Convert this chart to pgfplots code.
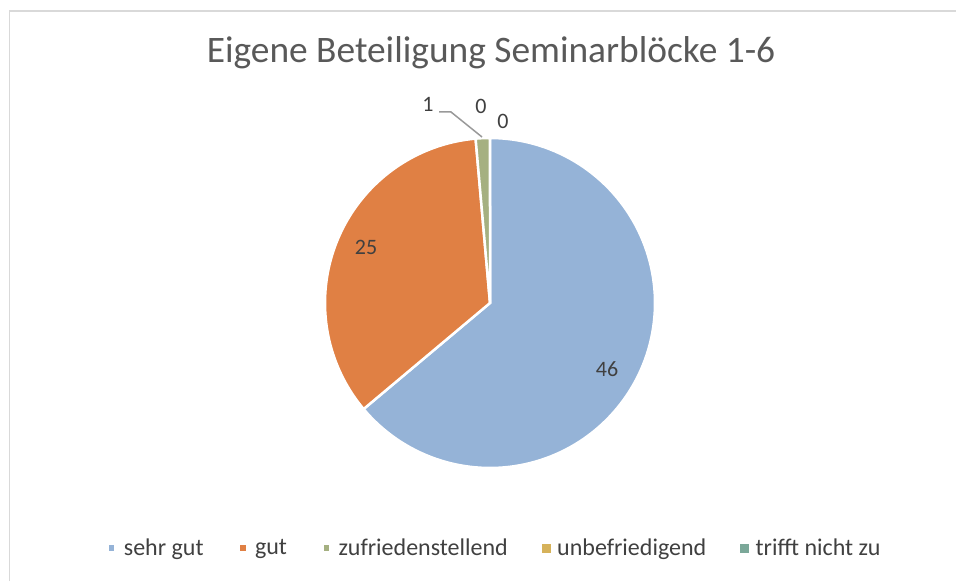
\documentclass[border=0pt]{standalone}
\usepackage{fontspec}
\setmainfont{Carlito}
\usepackage{pgfplots}
\pgfplotsset{compat=1.18}
\usepackage{pgfplotstable}
\definecolor{cA}{RGB}{149,179,215}
\definecolor{cB}{RGB}{224,128,68}
\definecolor{cC}{RGB}{165,176,129}
\definecolor{cD}{RGB}{214,178,90}
\definecolor{cE}{RGB}{123,168,153}
\definecolor{txt}{RGB}{64,64,64}
\definecolor{ttl}{RGB}{89,89,89}
\definecolor{frm}{RGB}{217,217,217}
\pgfplotstableread{
label value
sehr_gut 46
gut 25
zufriedenstellend 1
unbefriedigend 0
trifft_nicht_zu 0
}\piedata
\pgfplotstablegetelem{0}{value}\of\piedata \let\vA\pgfplotsretval
\pgfplotstablegetelem{1}{value}\of\piedata \let\vB\pgfplotsretval
\pgfplotstablegetelem{2}{value}\of\piedata \let\vC\pgfplotsretval
\pgfplotstablegetelem{3}{value}\of\piedata \let\vD\pgfplotsretval
\pgfplotstablegetelem{4}{value}\of\piedata \let\vE\pgfplotsretval
\pgfmathsetmacro\tot{\vA+\vB+\vC+\vD+\vE}
\pgfmathsetmacro\aO{90}
\pgfmathsetmacro\aA{\aO-360*(\vA/\tot)}
\pgfmathsetmacro\aB{\aA-360*(\vB/\tot)}
\pgfmathsetmacro\aC{\aB-360*(\vC/\tot)}
\def\cx{490}\def\cy{278}\def\rr{165}
\begin{document}%
\begin{tikzpicture}
\begin{axis}[
  x=1pt,y=1pt,xmin=0,xmax=957,ymin=0,ymax=581,
  axis lines=none, clip=false,
  legend columns=5,
  legend style={draw=none, fill=none, at={(axis cs:494.5,33)}, anchor=center,
    font=\fontsize{24}{26}\selectfont, text=txt,
    /tikz/every even column/.append style={column sep=32pt},
    /tikz/every odd column/.append style={column sep=5pt},
    inner sep=0pt},
  legend image code/.code={\fill[#1] (0pt,-4pt) rectangle (8pt,4pt);},
]
\path (axis cs:0,0) rectangle (axis cs:957,581);
\draw[frm, line width=1.5pt] (axis cs:9.5,0) -- (axis cs:9.5,570) -- (axis cs:956,570);
\addplot[fill=cA, draw=white, line width=2.5pt, domain=\aA:\aO, samples=120, variable=\t]
  ({\cx+\rr*cos(\t)},{\cy+\rr*sin(\t)}) -- (axis cs:\cx,\cy) -- cycle;
\addlegendentry{sehr gut}
\addplot[fill=cB, draw=white, line width=2.5pt, domain=\aB:\aA, samples=80, variable=\t]
  ({\cx+\rr*cos(\t)},{\cy+\rr*sin(\t)}) -- (axis cs:\cx,\cy) -- cycle;
\addlegendentry{gut}
\addplot[fill=cC, draw=white, line width=2.5pt, domain=\aC:\aB, samples=10, variable=\t]
  ({\cx+\rr*cos(\t)},{\cy+\rr*sin(\t)}) -- (axis cs:\cx,\cy) -- cycle;
\addlegendentry{zufriedenstellend}
\addlegendimage{cD}
\addlegendentry{unbefriedigend}
\addlegendimage{cE}
\addlegendentry{trifft nicht zu}
\node[text=ttl, font=\fontsize{37.4}{40}\selectfont] at (axis cs:491,528) {Eigene Beteiligung Seminarblöcke 1-6};
\begin{scope}[every node/.style={text=txt, font=\fontsize{22}{24}\selectfont}]
\node at (axis cs:607,212) {46};
\node at (axis cs:366,334) {25};
\node at (axis cs:428,477) {1};
\node at (axis cs:481,475) {0};
\node at (axis cs:503,460) {0};
\end{scope}
\draw[black!40, line width=1.5pt] (axis cs:439,469) -- (axis cs:451,469) -- (axis cs:482,444);
\end{axis}
\end{tikzpicture}%
\end{document}
